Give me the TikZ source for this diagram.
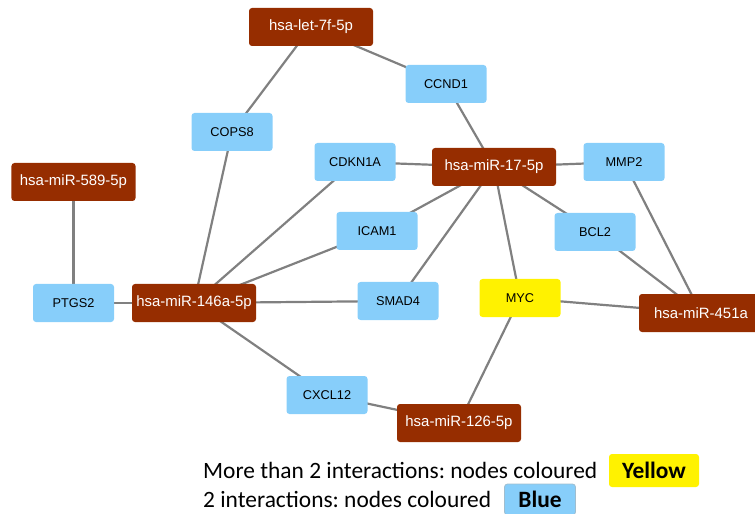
\documentclass[tikz,border=0pt]{standalone}
\usepackage{fontspec}
\setmainfont{Liberation Sans}
\newfontfamily\legendfont{Carlito}
\usetikzlibrary{backgrounds}
\frenchspacing

\definecolor{mirbrown}{RGB}{150,45,0}
\definecolor{geneblue}{RGB}{135,206,250}
\definecolor{edgegray}{RGB}{128,128,128}

\tikzset{
  mirna/.style={fill=mirbrown, text=white, rounded corners=3bp, minimum width=124bp,
    minimum height=38bp, inner sep=0pt, font=\fontsize{15}{18}\selectfont},
  gene/.style={fill=geneblue, text=black, rounded corners=3bp, minimum width=81bp,
    minimum height=38bp, inner sep=0pt, font=\fontsize{12.8}{15}\selectfont},
  hub/.style={gene, fill=yellow},
  link/.style={edgegray, line width=2.2bp},
  legendtext/.style={anchor=base west, inner sep=0pt,
    font=\legendfont\fontsize{23.5}{26}\selectfont},
  legendkey/.style={rounded corners=3bp, inner sep=0pt,
    font=\legendfont\bfseries\fontsize{23.5}{26}\selectfont}
}

\begin{document}
\begin{tikzpicture}[x=1bp, y=-1bp]
  \clip (0,0) rectangle (755,514);
  \useasboundingbox (0,0) rectangle (755,514);

  % microRNAs
  \node[mirna] (let7f)   at (311,27)  {hsa-let-7f-5p};
  \node[mirna] (mir589)  at (73.5,182) {hsa-miR-589-5p};
  \node[mirna] (mir17)   at (494,167) {hsa-miR-17-5p};
  \node[mirna] (mir146a) at (194,303) {hsa-miR-146a-5p};
  \node[mirna] (mir451a) at (701,313) {hsa-miR-451a};
  \node[mirna] (mir126)  at (459,423) {hsa-miR-126-5p};

  % target genes
  \node[gene] (ccnd1)  at (446,84)  {CCND1};
  \node[gene] (cops8)  at (232,132) {COPS8};
  \node[gene] (cdkn1a) at (355,162) {CDKN1A};
  \node[gene] (mmp2)   at (624,162) {MMP2};
  \node[gene] (icam1)  at (377,231) {ICAM1};
  \node[gene] (bcl2)   at (595,232) {BCL2};
  \node[gene] (ptgs2)  at (73.5,303) {PTGS2};
  \node[gene] (smad4)  at (398,301) {SMAD4};
  \node[hub]  (myc)    at (520,298) {MYC};
  \node[gene] (cxcl12) at (327,395) {CXCL12};

  % interactions
  \begin{pgfonlayer}{background}
    \foreach \a/\b in {let7f/cops8, let7f/ccnd1, ccnd1/mir17, cdkn1a/mir17,
        mir17/mmp2, mir17/icam1, mir17/smad4, mir17/myc, mir17/bcl2,
        mmp2/mir451a, bcl2/mir451a, myc/mir451a, myc/mir126, cxcl12/mir126,
        mir146a/cxcl12, mir146a/smad4, mir146a/icam1, mir146a/cdkn1a,
        mir146a/cops8, mir146a/ptgs2, mir589/ptgs2} {
      \draw[link] (\a.center) -- (\b.center);
    }
  \end{pgfonlayer}

  % Legend
  \node[legendtext] (more) at (203,478) {More than 2 interactions: nodes coloured};
  \node[legendtext] (two) at (203,507) {2 interactions: nodes coloured};
  \node[legendkey, fill=yellow, minimum width=90bp, minimum height=33bp]
    (yellowkey) at (654,470.5) {Yellow};
  \node[legendkey, fill=geneblue, draw=geneblue!70!black!60, line width=0.8bp,
    minimum width=71bp, minimum height=31bp] (bluekey) at (540,499.5) {Blue};
\end{tikzpicture}
\end{document}
